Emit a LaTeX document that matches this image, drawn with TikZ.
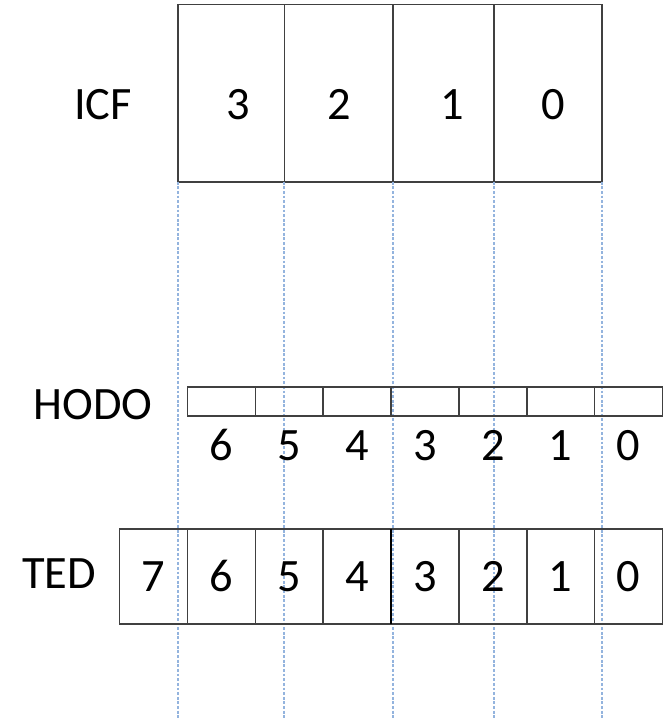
\documentclass[tikz,border=0pt]{standalone}
\usepackage{fontspec}
\setmainfont{Carlito}
\usepackage{tikz}
\usetikzlibrary{positioning}
\definecolor{guideblue}{RGB}{148,180,222}
\definecolor{cellgray}{RGB}{64,64,64}

\tikzset{
    lbl/.style={font=\fontsize{33}{40}\selectfont, inner sep=0pt, text height=21pt, text depth=0pt},
    cellbox/.style={draw=cellgray, line width=1.1pt, inner sep=0pt, outer sep=0pt},
    icfcell/.style={cellbox, minimum height=4.425cm},
    hodocell/.style={cellbox, minimum width=1.696cm, minimum height=0.725cm},
    tedcell/.style={cellbox, lbl, minimum width=1.696cm, minimum height=2.375cm},
    guide/.style={guideblue, line width=1.3pt, dash pattern=on 2pt off 1.3pt}
}

\begin{document}
\begin{tikzpicture}[x=0.025cm, y=-0.025cm]
    \useasboundingbox (0,0) rectangle (663,718);
    \coordinate (bottom) at (0,718);

    % ICF
    \node[lbl] (icf) at (103,104.5) {ICF};
    \node[icfcell, minimum width=2.6575cm] (icf3) at (231.15,93.2) {};
    \node[icfcell, minimum width=2.71cm, right=0pt of icf3] (icf2) {};
    \node[icfcell, minimum width=2.5325cm, right=0pt of icf2] (icf1) {};
    \node[icfcell, minimum width=2.6925cm, right=0pt of icf1] (icf0) {};
    \node[lbl] (icfn3) at (238,105) {3};
    \node[lbl] (icfn2) at (339,105) {2};
    \node[lbl] (icfn1) at (452.7,105) {1};
    \node[lbl] (icfn0) at (553,105) {0};

    % guide lines down from the ICF borders
    \draw[guide] (icf3.south west) -- (icf3.south west |- bottom);
    \foreach \i in {3,2,1,0}
        \draw[guide] (icf\i.south east) -- (icf\i.south east |- bottom);

    % HODO
    \node[lbl] (hodo) at (93,405) {HODO};
    \foreach \i in {0,...,6} {
        \node[hodocell] (hodo\i) at ({628.5-67.85*\i},401.7) {};
        \node[lbl] (hodon\i) at ({628.5-67.85*\i},445.5) {\i};
    }

    % TED
    \node[lbl] (ted) at (59,573.5) {TED};
    \foreach \i in {0,...,7}
        \node[tedcell] (ted\i) at ({628.5-67.85*\i},576.6) {\i};
    \draw[black, line width=2pt] (ted4.north east) -- (ted4.south east);
\end{tikzpicture}
\end{document}
